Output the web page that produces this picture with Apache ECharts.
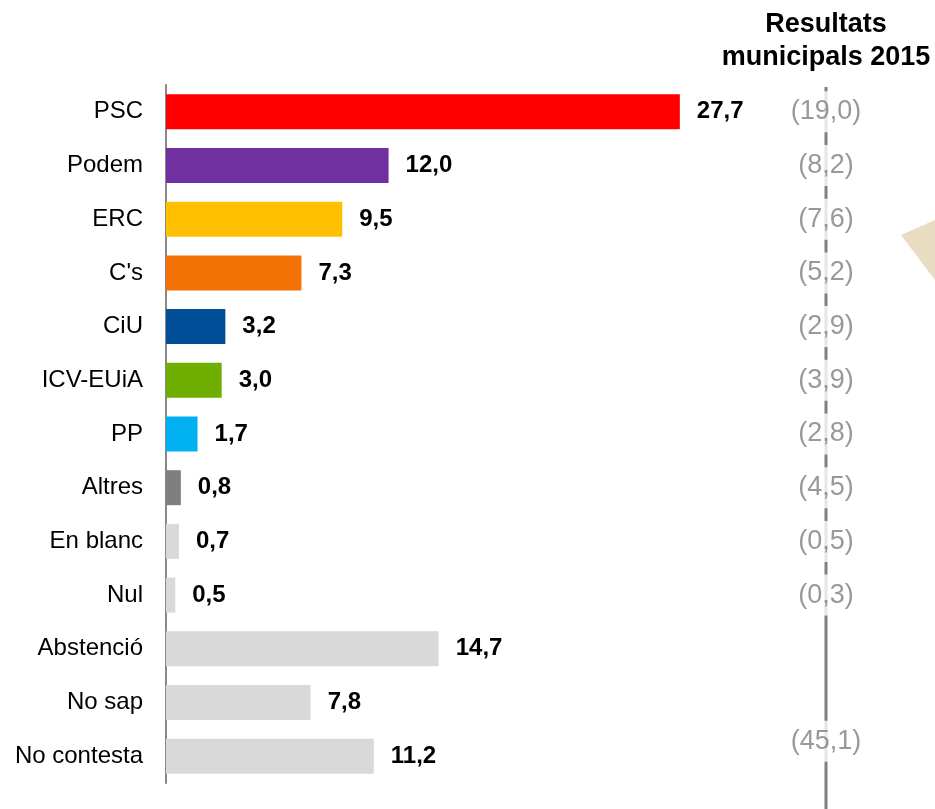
<!DOCTYPE html>
<html>
<head>
<meta charset="utf-8">
<script src="https://cdn.jsdelivr.net/npm/echarts@6/dist/echarts.min.js"></script>
<style>
  html, body { margin: 0; padding: 0; background: #fff; }
  #canvas { width: 935px; height: 809px; }
</style>
</head>
<body>
<div id="canvas"></div>
<script>
// vote intention, %
var categories = ['PSC', 'Podem', 'ERC', "C's", 'CiU', 'ICV-EUiA', 'PP', 'Altres', 'En blanc', 'Nul', 'Abstenció', 'No sap', 'No contesta'];
var values = [27.7, 12.0, 9.5, 7.3, 3.2, 3.0, 1.7, 0.8, 0.7, 0.5, 14.7, 7.8, 11.2];
// municipal results 2015 (null = no value shown)
var results2015 = ['19,0', '8,2', '7,6', '5,2', '2,9', '3,9', '2,8', '4,5', '0,5', '0,3', null, null, '45,1'];
var barColors = ['#ff0000', '#7030a0', '#ffc000', '#f57206', '#004f98', '#6fae00', '#00b0f0', '#7f7f7f',
                 '#d9d9d9', '#d9d9d9', '#d9d9d9', '#d9d9d9', '#d9d9d9'];

var FONT = "'Liberation Sans', Arial, sans-serif";

function fmt(v) {
  return v.toFixed(1).replace('.', ',');
}

var chart = echarts.init(document.getElementById('canvas'));

var barData = values.map(function (v, i) {
  return { value: v, itemStyle: { color: barColors[i] } };
});

var resultData = [];
results2015.forEach(function (r, i) {
  if (r === null) return;
  var item = { value: [1, categories[i], '(' + r + ')'] };
  if (i === categories.length - 1) {
    item.label = { offset: [0, -15] };
  }
  resultData.push(item);
});

var option = {
  animation: false,
  backgroundColor: '#fff',
  grid: [
    { left: 166, top: 85, width: 742, height: 698 },
    { left: 776, top: 85, width: 100, height: 698 }
  ],
  xAxis: [
    { gridIndex: 0, type: 'value', min: 0, max: 40, show: false },
    { gridIndex: 1, type: 'value', min: 0, max: 2, show: false }
  ],
  yAxis: [
    {
      gridIndex: 0,
      type: 'category',
      inverse: true,
      data: categories,
      axisLine: { show: true, lineStyle: { color: '#888', width: 2 } },
      axisTick: { show: false },
      axisLabel: { color: '#000', fontSize: 24, fontFamily: FONT, margin: 23 }
    },
    {
      gridIndex: 1,
      type: 'category',
      inverse: true,
      data: categories,
      show: false
    }
  ],
  graphic: [
    {
      type: 'line',
      shape: { x1: 826, y1: 87, x2: 826, y2: 809 },
      style: { stroke: '#808080', lineWidth: 3 }
    },
    {
      type: 'polygon',
      shape: { points: [[901, 235], [935, 220], [935, 280]] },
      style: { fill: '#e8dcc2' }
    },
    {
      type: 'text',
      x: 826,
      y: 8,
      style: {
        text: 'Resultats\nmunicipals 2015',
        textAlign: 'center',
        textVerticalAlign: 'top',
        font: 'bold 27px ' + FONT,
        lineHeight: 33,
        fill: '#000'
      }
    }
  ],
  series: [
    {
      type: 'bar',
      xAxisIndex: 0,
      yAxisIndex: 0,
      barWidth: 35,
      data: barData,
      label: {
        show: true,
        position: 'right',
        distance: 17,
        color: '#000',
        fontWeight: 'bold',
        fontSize: 24,
        fontFamily: FONT,
        formatter: function (p) { return fmt(p.value); }
      }
    },
    {
      type: 'scatter',
      xAxisIndex: 1,
      yAxisIndex: 1,
      zlevel: 1,
      symbolSize: 1,
      itemStyle: { color: 'rgba(0,0,0,0)' },
      data: resultData,
      label: {
        show: true,
        position: 'inside',
        color: '#808080',
        fontSize: 27,
        fontFamily: FONT,
        backgroundColor: '#fff',
        padding: [7, 2],
        formatter: function (p) { return p.value[2]; }
      }
    }
  ]
};

chart.setOption(option, true);
</script>
</body>
</html>
